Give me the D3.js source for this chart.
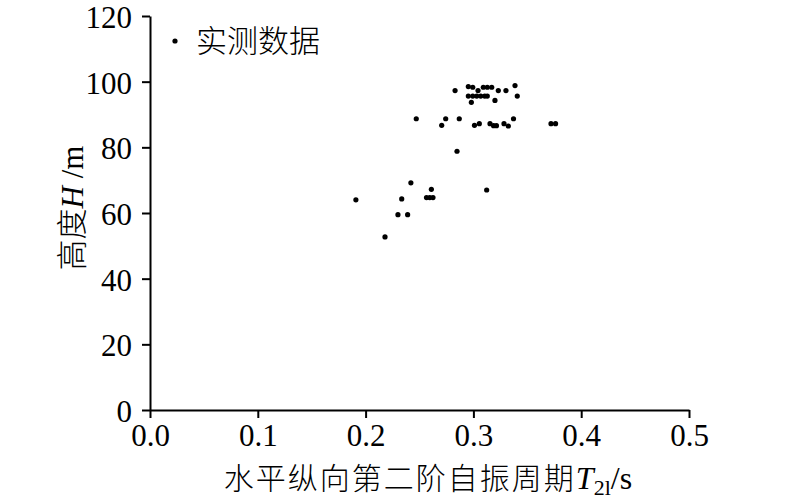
<!DOCTYPE html>
<html>
<head>
<meta charset="utf-8">
<script src="https://cdn.jsdelivr.net/npm/d3@7"></script>
<style>
  body { margin: 0; background: #fff; }
  svg { display: block; }
</style>
</head>
<body>
<script>
// measured points: period T2l (s) and height H (m)
const periodT = [
  0.191, 0.218, 0.230, 0.239, 0.2335, 0.242, 0.247, 0.2565, 0.2595, 0.2625, 0.261,
  0.2706, 0.2743, 0.283, 0.2848, 0.2869, 0.2953, 0.2994, 0.3043, 0.3092, 0.3129,
  0.317, 0.3231, 0.3302, 0.3386, 0.3407, 0.2953, 0.2994, 0.3031, 0.3068, 0.3105,
  0.3129, 0.2981, 0.320, 0.301, 0.3055, 0.3154, 0.3187, 0.3214, 0.3284, 0.3324,
  0.3372, 0.372, 0.3762, 0.3123
];
const heightH = [
  64.0, 52.7, 59.5, 59.5, 64.3, 69.2, 88.7, 64.7, 64.7, 64.7, 67.2,
  86.7, 88.7, 97.3, 78.8, 88.7, 98.5, 98.3, 97.3, 98.3, 98.3,
  98.3, 97.3, 97.3, 98.8, 95.6, 95.6, 95.6, 95.6, 95.6, 95.6,
  95.6, 93.7, 94.3, 86.7, 87.2, 87.2, 86.6, 86.6, 87.2, 86.5,
  88.7, 87.2, 87.2, 67.0
];
const xTicks = [0, 0.1, 0.2, 0.3, 0.4, 0.5];
const yTicks = [0, 20, 40, 60, 80, 100, 120];
const legendLabel = "实测数据";

const W = 801, H = 501;
const serif = "'Liberation Serif', 'Times New Roman', serif";
const cjk = "'Noto Sans CJK SC', sans-serif";

const svg = d3.select("body").append("svg")
    .attr("width", W)
    .attr("height", H);

const x = d3.scaleLinear().domain([0, 0.5]).range([150, 689]);
const y = d3.scaleLinear().domain([0, 120]).range([410, 16]);

// axes
const xAxis = svg.append("g")
    .attr("transform", "translate(0," + y(0) + ")")
    .call(d3.axisBottom(x).tickValues(xTicks).tickFormat(d3.format(".1f")).tickSize(8).tickSizeOuter(0));

const yAxis = svg.append("g")
    .attr("transform", "translate(" + x(0) + ",0)")
    .call(d3.axisLeft(y).tickValues(yTicks).tickSize(8).tickSizeOuter(0));

[xAxis, yAxis].forEach(function(g) {
    g.select(".domain").attr("stroke", "#000").attr("stroke-width", 2);
    g.selectAll(".tick line").attr("stroke", "#000").attr("stroke-width", 2);
    g.selectAll(".tick text")
        .attr("fill", "#000")
        .style("font-family", serif)
        .style("font-size", "31px");
});
xAxis.selectAll(".tick text").attr("y", 14).attr("dy", "0.71em");
yAxis.selectAll(".tick text").attr("x", -18).attr("dy", "0.37em");

// points
svg.append("g").selectAll("circle")
    .data(periodT.map(function(t, i) { return [t, heightH[i]]; }))
    .enter()
    .append("circle")
    .attr("cx", d => x(d[0]))
    .attr("cy", d => y(d[1]))
    .attr("r", 2.6)
    .attr("fill", "#000");

// legend
svg.append("circle")
    .attr("cx", 175).attr("cy", 41).attr("r", 2.6).attr("fill", "#000");
svg.append("text")
    .attr("x", 196).attr("y", 52)
    .style("font-family", cjk)
    .style("font-size", "31px")
    .style("font-weight", 300)
    .text(legendLabel);

// x label
const xl = svg.append("text")
    .attr("x", 428).attr("y", 489)
    .attr("text-anchor", "middle")
    .style("font-size", "30px");
xl.append("tspan").style("font-family", cjk).style("font-weight", 300).style("letter-spacing", "2px").text("水平纵向第二阶自振周期");
xl.append("tspan").style("font-family", serif).style("font-style", "italic").style("font-size", "32px").text("T");
xl.append("tspan").style("font-family", serif).style("font-size", "22px").attr("dy", 6).text("2l");
xl.append("tspan").style("font-family", serif).style("font-size", "32px").attr("dy", -6).text("/s");

// y label
const yl = svg.append("text")
    .attr("transform", "translate(83,208) rotate(-90)")
    .attr("text-anchor", "middle")
    .style("font-size", "31px");
yl.append("tspan").style("font-family", cjk).style("font-weight", 300).text("高度");
yl.append("tspan").style("font-family", serif).style("font-style", "italic").text("H");
yl.append("tspan").style("font-family", serif).text(" /m");
</script>
</body>
</html>
